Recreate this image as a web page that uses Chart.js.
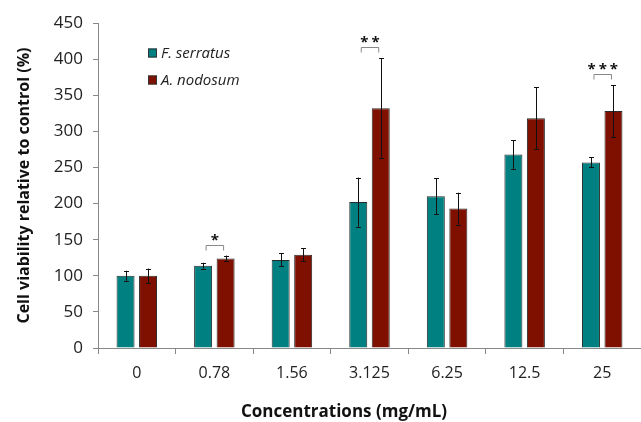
<!DOCTYPE html>
<html>
<head>
<meta charset="utf-8">
<script src="https://cdn.jsdelivr.net/npm/chart.js@4"></script>
<style>
  html, body { margin: 0; padding: 0; background: #fff; }
  #wrap { width: 641px; height: 422px; }
</style>
</head>
<body>
<div id="wrap"><canvas id="chart"></canvas></div>
<script>
const categories = ['0', '0.78', '1.56', '3.125', '6.25', '12.5', '25'];
const serratus = [100, 114, 122, 202, 210, 268, 257];
const serratusErr = [7, 4, 9, 34, 25, 20, 7];
const nodosum = [100, 124, 129, 332, 193, 318, 328];
const nodosumErr = [10, 4, 9, 69, 22, 43, 36];
const significance = ['', '*', '', '**', '', '', '***'];
const yTicks = [0, 50, 100, 150, 200, 250, 300, 350, 400, 450];
const xTitle = 'Concentrations (mg/mL)';

const FONT = "'Open Sans', sans-serif";
const errs = [serratusErr, nodosumErr];

const extras = {
    id: 'extras',
    afterDatasetsDraw(chart) {
        const ctx = chart.ctx;
        const y = chart.scales.y;
        ctx.save();

        // error bars
        ctx.strokeStyle = '#111';
        ctx.lineWidth = 1;
        chart.data.datasets.forEach((ds, di) => {
            chart.getDatasetMeta(di).data.forEach((bar, i) => {
                const v = ds.data[i], e = errs[di][i];
                const x = Math.round(bar.x) + 0.5;
                const yHi = y.getPixelForValue(v + e);
                const yLo = y.getPixelForValue(v - e);
                ctx.beginPath();
                ctx.moveTo(x, yHi); ctx.lineTo(x, yLo);
                ctx.moveTo(x - 2.5, Math.round(yHi) + 0.5); ctx.lineTo(x + 2.5, Math.round(yHi) + 0.5);
                ctx.moveTo(x - 2.5, Math.round(yLo) + 0.5); ctx.lineTo(x + 2.5, Math.round(yLo) + 0.5);
                ctx.stroke();
            });
        });

        // significance brackets
        const m0 = chart.getDatasetMeta(0).data;
        const m1 = chart.getDatasetMeta(1).data;
        significance.forEach((s, i) => {
            if (!s) return;
            const top = Math.max(serratus[i] + serratusErr[i], nodosum[i] + nodosumErr[i]);
            const by = Math.round(y.getPixelForValue(top)) - 10.5;
            const x1 = m0[i].x + 3, x2 = m1[i].x - 2;
            ctx.strokeStyle = '#888';
            ctx.beginPath();
            ctx.moveTo(x1, by + 5); ctx.lineTo(x1, by); ctx.lineTo(x2, by); ctx.lineTo(x2, by + 5);
            ctx.stroke();
            ctx.fillStyle = '#111';
            ctx.font = 'bold 15px ' + FONT;
            ctx.textAlign = 'center';
            ctx.textBaseline = 'alphabetic';
            ctx.letterSpacing = '3px';
            ctx.fillText(s, (x1 + x2) / 2 + 1.5, by - 1);
        });

        // legend
        const lx = chart.chartArea.left + 50, ly = chart.chartArea.top + 30;
        ctx.letterSpacing = '0px';
        chart.data.datasets.forEach((ds, di) => {
            const cy = ly + di * 27;
            ctx.fillStyle = ds.backgroundColor;
            ctx.fillRect(lx, cy - 4.5, 9, 9);
            ctx.strokeStyle = '#333';
            ctx.strokeRect(lx + 0.5, cy - 4, 8, 8);
            ctx.fillStyle = '#222';
            ctx.font = 'italic 15px ' + FONT;
            ctx.textAlign = 'left';
            ctx.textBaseline = 'middle';
            ctx.fillText(ds.label, lx + 13, cy + 1);
        });

        // x axis title (centred on the figure, not on the plot area)
        ctx.fillStyle = '#111';
        ctx.font = 'bold 17px ' + FONT;
        ctx.textAlign = 'center';
        ctx.textBaseline = 'middle';
        ctx.fillText(xTitle, 344, chart.chartArea.bottom + 64);
        ctx.restore();
    }
};

new Chart(document.getElementById('chart'), {
    type: 'bar',
    data: {
        labels: categories,
        datasets: [
            { label: 'F. serratus', data: serratus, backgroundColor: '#008080', borderColor: '#2a2a2a', borderWidth: 1 },
            { label: 'A. nodosum', data: nodosum, backgroundColor: '#7f1000', borderColor: '#2a2a2a', borderWidth: 1 }
        ]
    },
    options: {
        responsive: true,
        maintainAspectRatio: false,
        animation: false,
        categoryPercentage: 0.58,
        barPercentage: 0.8,
        layout: { padding: { top: 23, right: 0, bottom: 0, left: 0 } },
        plugins: { legend: { display: false }, tooltip: { enabled: false } },
        scales: {
            x: {
                grid: { drawOnChartArea: false, tickLength: 6, color: '#888', offset: true },
                border: { color: '#888' },
                ticks: { padding: 10, color: '#222', font: { family: FONT, size: 16 } },
                afterFit(scale) { scale.height = 74; }
            },
            y: {
                min: 0, max: 450,
                afterBuildTicks(scale) { scale.ticks = yTicks.map(v => ({ value: v })); },
                grid: { drawOnChartArea: false, tickLength: 5, color: '#888' },
                border: { color: '#888' },
                ticks: { padding: 10, color: '#222', font: { family: FONT, size: 17 } },
                title: { display: true, text: 'Cell viability relative to control (%)', color: '#111', font: { family: FONT, size: 16, weight: 'bold' }, padding: { top: 15, bottom: 0 } },
                afterFit(scale) { scale.width = 98; }
            }
        }
    },
    plugins: [extras]
});
</script>
</body>
</html>
